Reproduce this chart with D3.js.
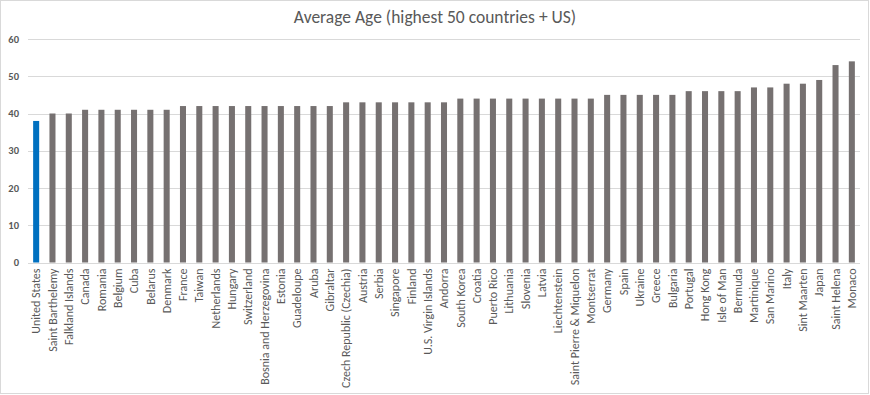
<!DOCTYPE html>
<html>
<head>
<meta charset="utf-8">
<script src="https://cdn.jsdelivr.net/npm/d3@7"></script>
<style>
  body { margin: 0; background: #fff; }
  text { font-family: Calibri, Carlito, "Liberation Sans", sans-serif; fill: #595959; }
</style>
</head>
<body>
<div id="chart"></div>
<script>
    // datos del grafico
    var countries = ["United States", "Saint Barthelemy", "Falkland Islands", "Canada", "Romania", "Belgium", "Cuba",
      "Belarus", "Denmark", "France", "Taiwan", "Netherlands", "Hungary", "Switzerland", "Bosnia and Herzegovina",
      "Estonia", "Guadeloupe", "Aruba", "Gibraltar", "Czech Republic (Czechia)", "Austria", "Serbia", "Singapore",
      "Finland", "U.S. Virgin Islands", "Andorra", "South Korea", "Croatia", "Puerto Rico", "Lithuania", "Slovenia",
      "Latvia", "Liechtenstein", "Saint Pierre & Miquelon", "Montserrat", "Germany", "Spain", "Ukraine", "Greece",
      "Bulgaria", "Portugal", "Hong Kong", "Isle of Man", "Bermuda", "Martinique", "San Marino", "Italy",
      "Sint Maarten", "Japan", "Saint Helena", "Monaco"];
    var ages = [38, 40, 40, 41, 41, 41, 41, 41, 41, 42, 42, 42, 42, 42, 42, 42, 42, 42, 42, 43, 43, 43, 43, 43, 43, 43,
      44, 44, 44, 44, 44, 44, 44, 44, 44, 45, 45, 45, 45, 45, 46, 46, 46, 46, 47, 47, 48, 48, 49, 53, 54];
    var yTicks = [0, 10, 20, 30, 40, 50, 60];
    var highlight = "United States";

    var W = 870, H = 395;
    var margin = {top: 39, right: 10, bottom: 132, left: 28},
      width = 860 - margin.left,
      height = 262.5 - margin.top;

    var svg = d3.select("#chart")
      .append("svg")
        .attr("width", W)
        .attr("height", H);

    // borde del area
    svg.append("rect")
      .attr("x", 0.5).attr("y", 0.5)
      .attr("width", W - 2).attr("height", H - 2)
      .attr("fill", "none")
      .attr("stroke", "#d9d9d9");

    var g = svg.append("g")
      .attr("transform", "translate(" + margin.left + "," + margin.top + ")");

    var x = d3.scaleBand()
      .domain(countries)
      .range([0, width])
      .padding(0);

    var y = d3.scaleLinear()
      .domain([0, 60])
      .range([height, 0]);

    // lineas de cuadricula
    g.append("g")
      .selectAll("line")
      .data(yTicks)
      .enter().append("line")
        .attr("x1", 0).attr("x2", width)
        .attr("y1", function(d) { return Math.round(y(d)) + 0.5; })
        .attr("y2", function(d) { return Math.round(y(d)) + 0.5; })
        .attr("stroke", "#d9d9d9")
        .attr("stroke-width", 1);

    // etiquetas eje y
    g.append("g")
      .selectAll("text")
      .data(yTicks)
      .enter().append("text")
        .attr("x", -9)
        .attr("y", function(d) { return y(d); })
        .attr("dy", "0.35em")
        .style("text-anchor", "end")
        .style("font-size", "10.5px")
        .style("font-weight", "bold")
        .text(function(d) { return d; });

    // barras
    var barW = x.bandwidth() * 0.37;
    g.append("g")
      .selectAll("rect")
      .data(countries)
      .enter().append("rect")
        .attr("x", function(d) { return x(d) + (x.bandwidth() - barW) / 2; })
        .attr("y", function(d, i) { return y(ages[i]); })
        .attr("width", barW)
        .attr("height", function(d, i) { return height - y(ages[i]); })
        .attr("fill", function(d) { return d === highlight ? "#0070c0" : "#767171"; });

    // etiquetas eje x
    g.append("g")
      .selectAll("text")
      .data(countries)
      .enter().append("text")
        .attr("transform", function(d) {
          return "translate(" + (x(d) + x.bandwidth() / 2) + "," + (height + 6) + ") rotate(-90)";
        })
        .attr("dy", "0.35em")
        .style("text-anchor", "end")
        .style("font-size", "12px")
        .text(function(d) { return d; });

    // titulo
    svg.append("text")
      .attr("x", 435)
      .attr("y", 23)
      .style("text-anchor", "middle")
      .style("font-size", "17.5px")
      .text("Average Age (highest 50 countries + US)");
</script>
</body>
</html>
